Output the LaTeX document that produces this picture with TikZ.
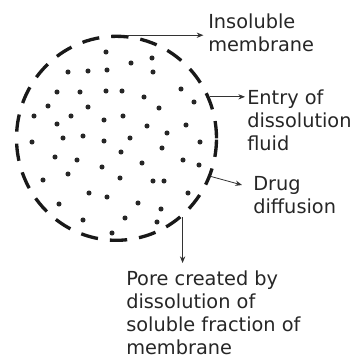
\documentclass[tikz,border=0pt]{standalone}
\usepackage{fontspec}
\setmainfont{DejaVu Sans}
\usetikzlibrary{arrows.meta,positioning,calc,shapes.geometric}

\begin{document}
\begin{tikzpicture}[x=0.75pt, y=-0.75pt,
    tag/.style={anchor=north west, inner sep=0pt, align=left, font=\fontsize{14.5}{17.25}\selectfont, text=black!85},
    pointer/.style={-{Stealth[length=5pt,width=4pt]}, line width=0.6pt, black!80},
    pellet/.style={ellipse, draw=black!90, line width=2.5pt, dash pattern=on 13pt off 9pt, minimum width=150pt, minimum height=153pt, inner sep=0pt}]
    \useasboundingbox (0,0) rectangle (354,360);

    \node[pellet] (core) at (116.5,138.3) {};

    % drug particles
    \foreach \p in {(106,52),(131,63),(152,58),(68,72),(88,71),(107,70),(153,72),
        (57,92),(80,92),(106,91),(122,91),(144,97),(181,89),(48,106),(88,107),(159,108),(194,102),
        (34,116),(71,116),(57,124),(104,120),(123,116),(147,126),(167,133),(186,125),
        (32,142),(63,138),(83,136),(104,141),(130,138),(121,152),(162,148),(200,142),
        (55,157),(77,160),(102,167),(142,163),(183,160),(199,165),
        (43,180),(68,174),(120,178),(153,181),(164,181),(89,193),(107,197),(138,203),(188,193),
        (59,204),(161,209),(83,220),(125,218),(157,222),(112,233)}
        \fill[black!85] \p circle (1.9pt);

    \node[tag] (insol) at (208,14) {Insoluble\\membrane};
    \node[tag] (entry) at (247,90) {Entry of\\dissolution\\fluid};
    \node[tag] (drug) at (253,176) {Drug\\diffusion};
    \node[tag] (pore) at (126,271) {Pore created by\\dissolution of\\soluble fraction of\\membrane};
    \coordinate (drugtip) at (242,185);

    \draw[pointer, shorten >=3.5pt] (core.84) -- (core.84 -| insol.west);
    \draw[pointer, shorten >=1.5pt] (core.24) -- (core.24 -| entry.west);
    \draw[pointer] (core.-22) -- (drugtip);
    \draw[pointer, shorten >=6pt] (core.-50) -- (core.-50 |- pore.north);
\end{tikzpicture}
\end{document}
